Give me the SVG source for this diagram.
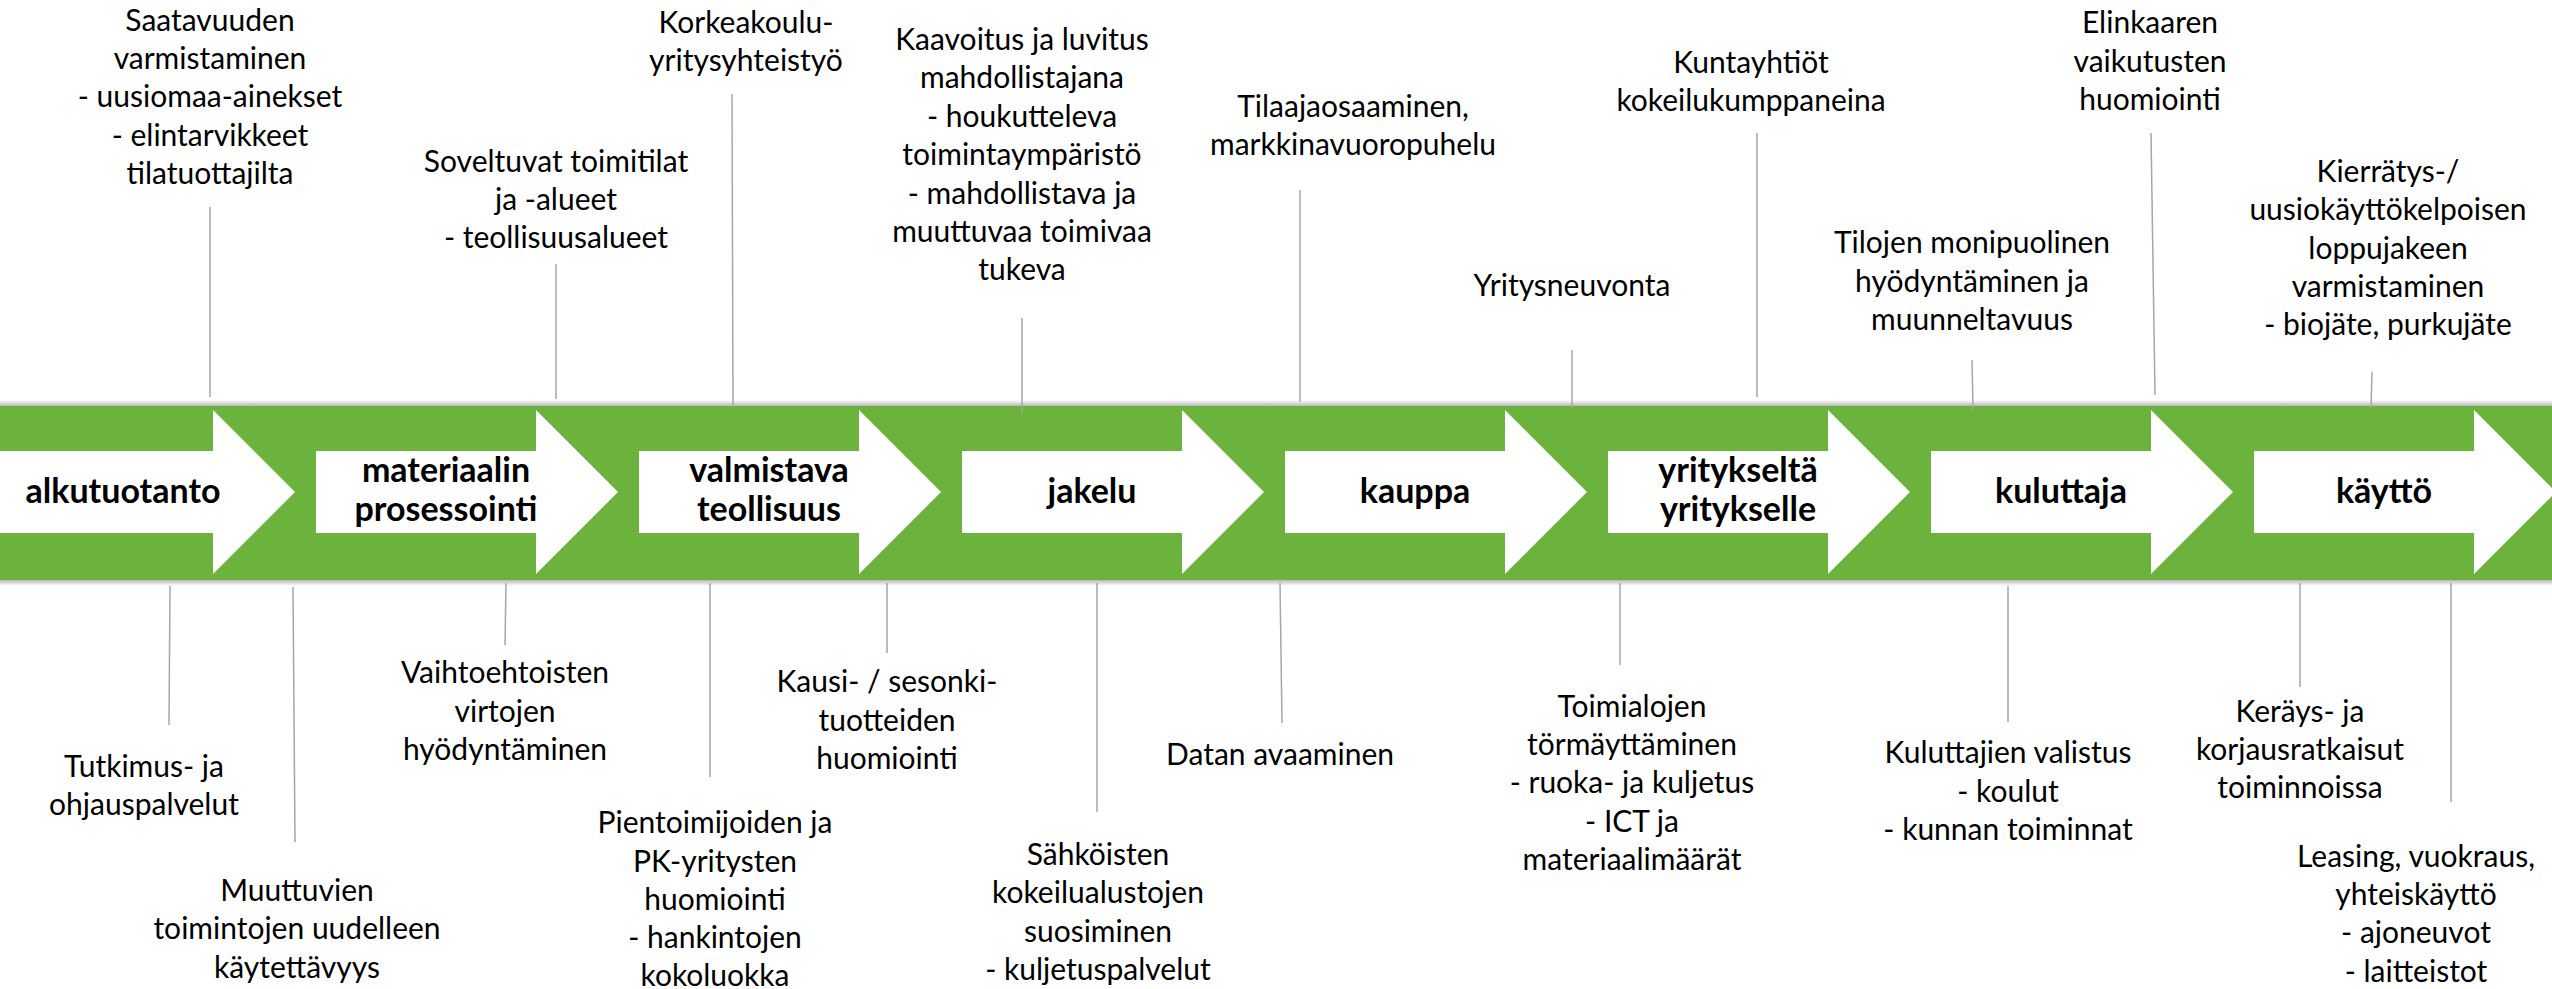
<svg xmlns="http://www.w3.org/2000/svg" width="2552" height="989" viewBox="0 0 2552 989">
<defs>
<linearGradient id="shTop" x1="0" y1="0" x2="0" y2="1"><stop offset="0" stop-color="#ffffff"/><stop offset="1" stop-color="#b8b8b8"/></linearGradient>
<linearGradient id="shBot" x1="0" y1="0" x2="0" y2="1"><stop offset="0" stop-color="#b8b8b8"/><stop offset="1" stop-color="#ffffff"/></linearGradient>
</defs>
<style>
.band{fill:#6bb33c}
.arrow{fill:#ffffff}
.stage{font-family:Lato,"Open Sans",sans-serif;font-weight:bold;font-size:34px;fill:#000;text-anchor:middle}
.note{font-family:Lato,"Open Sans",sans-serif;font-size:30px;fill:#000;text-anchor:middle}
.conn line{stroke:#a6a6a6;stroke-width:1.5;fill:none}
</style>
<rect x="0" y="0" width="2552" height="989" fill="#ffffff"/>
<rect x="0" y="400" width="2552" height="6" fill="url(#shTop)"/>
<rect x="0" y="580" width="2552" height="6" fill="url(#shBot)"/>
<rect class="band" x="0" y="406" width="2552" height="174"/>

<g id="stage-alkutuotanto"><polygon class="arrow" points="0,451 213,451 213,410 295,492 213,574 213,533 0,533"/><text class="stage" x="123" y="503">alkutuotanto</text></g>
<g id="stage-materiaalin-prosessointi"><polygon class="arrow" points="316,451 536,451 536,410 618,492 536,574 536,533 316,533"/><text class="stage" x="446" y="482">materiaalin</text><text class="stage" x="446" y="521">prosessointi</text></g>
<g id="stage-valmistava-teollisuus"><polygon class="arrow" points="639,451 859,451 859,410 941,492 859,574 859,533 639,533"/><text class="stage" x="769" y="482">valmistava</text><text class="stage" x="769" y="521">teollisuus</text></g>
<g id="stage-jakelu"><polygon class="arrow" points="962,451 1182,451 1182,410 1264,492 1182,574 1182,533 962,533"/><text class="stage" x="1092" y="503">jakelu</text></g>
<g id="stage-kauppa"><polygon class="arrow" points="1285,451 1505,451 1505,410 1587,492 1505,574 1505,533 1285,533"/><text class="stage" x="1415" y="503">kauppa</text></g>
<g id="stage-yritykselta-yritykselle"><polygon class="arrow" points="1608,451 1828,451 1828,410 1910,492 1828,574 1828,533 1608,533"/><text class="stage" x="1738" y="482">yritykseltä</text><text class="stage" x="1738" y="521">yritykselle</text></g>
<g id="stage-kuluttaja"><polygon class="arrow" points="1931,451 2151,451 2151,410 2233,492 2151,574 2151,533 1931,533"/><text class="stage" x="2061" y="503">kuluttaja</text></g>
<g id="stage-kaytto"><polygon class="arrow" points="2254,451 2474,451 2474,410 2556,492 2474,574 2474,533 2254,533"/><text class="stage" x="2384" y="503">käyttö</text></g>

<g id="connectors" class="conn">
<line x1="210" y1="207" x2="210" y2="397"/>
<line x1="556" y1="264" x2="556" y2="399"/>
<line x1="732" y1="94" x2="733" y2="405"/>
<line x1="1022" y1="318" x2="1022" y2="413"/>
<line x1="1300" y1="190" x2="1300" y2="402"/>
<line x1="1572" y1="350" x2="1572" y2="409"/>
<line x1="1757" y1="133" x2="1757" y2="397"/>
<line x1="1972" y1="360" x2="1973" y2="410"/>
<line x1="2151" y1="133" x2="2155" y2="395"/>
<line x1="2372" y1="372" x2="2371" y2="409"/>
<line x1="170" y1="586" x2="169" y2="725"/>
<line x1="293" y1="587" x2="295" y2="842"/>
<line x1="506" y1="583" x2="505" y2="645"/>
<line x1="710" y1="583" x2="710" y2="777"/>
<line x1="887" y1="583" x2="887" y2="653"/>
<line x1="1097" y1="583" x2="1097" y2="812"/>
<line x1="1280" y1="583" x2="1282" y2="723"/>
<line x1="1620" y1="583" x2="1620" y2="665"/>
<line x1="2008" y1="586" x2="2008" y2="722"/>
<line x1="2300" y1="583" x2="2300" y2="687"/>
<line x1="2451" y1="583" x2="2451" y2="802"/>
</g>

<g id="note-saatavuuden" class="note"><text x="210" y="31">Saatavuuden</text><text x="210" y="69">varmistaminen</text><text x="210" y="107">- uusiomaa-ainekset</text><text x="210" y="146">- elintarvikkeet</text><text x="210" y="184">tilatuottajilta</text></g>
<g id="note-soveltuvat" class="note"><text x="556" y="172">Soveltuvat toimitilat</text><text x="556" y="210">ja -alueet</text><text x="556" y="248">- teollisuusalueet</text></g>
<g id="note-korkeakoulu" class="note"><text x="746" y="33">Korkeakoulu-</text><text x="746" y="71">yritysyhteistyö</text></g>
<g id="note-kaavoitus" class="note"><text x="1022" y="50">Kaavoitus ja luvitus</text><text x="1022" y="88">mahdollistajana</text><text x="1022" y="127">- houkutteleva</text><text x="1022" y="165">toimintaympäristö</text><text x="1022" y="204">- mahdollistava ja</text><text x="1022" y="242">muuttuvaa toimivaa</text><text x="1022" y="280">tukeva</text></g>
<g id="note-tilaajaosaaminen" class="note"><text x="1353" y="117">Tilaajaosaaminen,</text><text x="1353" y="155">markkinavuoropuhelu</text></g>
<g id="note-yritysneuvonta" class="note"><text x="1572" y="296">Yritysneuvonta</text></g>
<g id="note-kuntayhtiot" class="note"><text x="1751" y="73">Kuntayhtiöt</text><text x="1751" y="111">kokeilukumppaneina</text></g>
<g id="note-elinkaaren" class="note"><text x="2150" y="33">Elinkaaren</text><text x="2150" y="72">vaikutusten</text><text x="2150" y="110">huomiointi</text></g>
<g id="note-tilojen" class="note"><text x="1972" y="253">Tilojen monipuolinen</text><text x="1972" y="292">hyödyntäminen ja</text><text x="1972" y="330">muunneltavuus</text></g>
<g id="note-kierratys" class="note"><text x="2388" y="182">Kierrätys-/</text><text x="2388" y="220">uusiokäyttökelpoisen</text><text x="2388" y="259">loppujakeen</text><text x="2388" y="297">varmistaminen</text><text x="2388" y="335">- biojäte, purkujäte</text></g>

<g id="note-tutkimus" class="note"><text x="144" y="777">Tutkimus- ja</text><text x="144" y="815">ohjauspalvelut</text></g>
<g id="note-muuttuvien" class="note"><text x="297" y="901">Muuttuvien</text><text x="297" y="939">toimintojen uudelleen</text><text x="297" y="978">käytettävyys</text></g>
<g id="note-vaihtoehtoisten" class="note"><text x="505" y="683">Vaihtoehtoisten</text><text x="505" y="722">virtojen</text><text x="505" y="760">hyödyntäminen</text></g>
<g id="note-pientoimijoiden" class="note"><text x="715" y="833">Pientoimijoiden ja</text><text x="715" y="872">PK-yritysten</text><text x="715" y="910">huomiointi</text><text x="715" y="948">- hankintojen</text><text x="715" y="986">kokoluokka</text></g>
<g id="note-kausi" class="note"><text x="887" y="692">Kausi- / sesonki-</text><text x="887" y="731">tuotteiden</text><text x="887" y="769">huomiointi</text></g>
<g id="note-sahkoisten" class="note"><text x="1098" y="865">Sähköisten</text><text x="1098" y="903">kokeilualustojen</text><text x="1098" y="942">suosiminen</text><text x="1098" y="980">- kuljetuspalvelut</text></g>
<g id="note-datan" class="note"><text x="1280" y="765">Datan avaaminen</text></g>
<g id="note-toimialojen" class="note"><text x="1632" y="717">Toimialojen</text><text x="1632" y="755">törmäyttäminen</text><text x="1632" y="793">- ruoka- ja kuljetus</text><text x="1632" y="832">- ICT ja</text><text x="1632" y="870">materiaalimäärät</text></g>
<g id="note-kuluttajien" class="note"><text x="2008" y="763">Kuluttajien valistus</text><text x="2008" y="802">- koulut</text><text x="2008" y="840">- kunnan toiminnat</text></g>
<g id="note-kerays" class="note"><text x="2300" y="722">Keräys- ja</text><text x="2300" y="760">korjausratkaisut</text><text x="2300" y="798">toiminnoissa</text></g>
<g id="note-leasing" class="note"><text x="2416" y="867">Leasing, vuokraus,</text><text x="2416" y="905">yhteiskäyttö</text><text x="2416" y="943">- ajoneuvot</text><text x="2416" y="982">- laitteistot</text></g>
</svg>
